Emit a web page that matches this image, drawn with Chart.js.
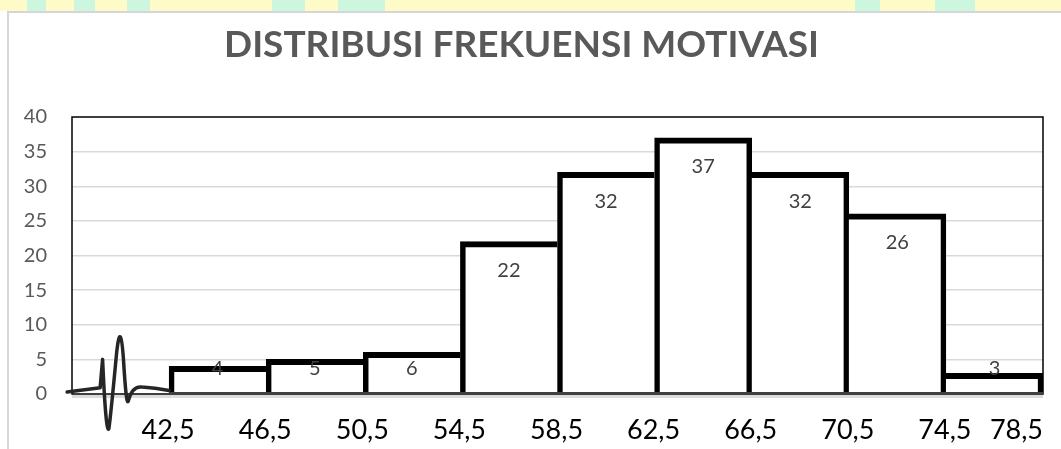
<!DOCTYPE html>
<html>
<head>
<meta charset="utf-8">
<script src="https://cdn.jsdelivr.net/npm/chart.js@4"></script>
<style>
  body { margin: 0; background: #fff; overflow: hidden; }
  #strip {
    position: absolute; left: 0; top: 0; width: 1061px; height: 11px;
    background: linear-gradient(90deg,
      #fffbc9 27px, #cdf6df 27px, #cdf6df 46px, #fffbc9 46px,
      #fffbc9 74px, #cdf6df 74px, #cdf6df 95px, #fffbc9 95px,
      #fffbc9 127px, #cdf6df 127px, #cdf6df 150px, #fffbc9 150px,
      #fffbc9 272px, #cdf6df 272px, #cdf6df 305px, #fffbc9 305px,
      #fffbc9 338px, #cdf6df 338px, #cdf6df 385px, #fffbc9 385px,
      #fffbc9 855px, #cdf6df 855px, #cdf6df 880px, #fffbc9 880px,
      #fffbc9 935px, #cdf6df 935px, #cdf6df 975px, #fffbc9 975px);
  }
  #box {
    position: absolute; left: 7px; top: 11px; width: 1100px; height: 500px;
    border-left: 2px solid #d6d6d6; border-top: 2px solid #d6d6d6; background: #fff;
  }
  #wrap { position: absolute; left: 0; top: 0; width: 1061px; height: 449px; }
</style>
</head>
<body>
<div id="strip"></div>
<div id="box"></div>
<div id="wrap"><canvas id="chart"></canvas></div>
<script>
// class boundaries shown under the bars
const classBounds = ["42,5", "46,5", "50,5", "54,5", "58,5", "62,5", "66,5", "70,5", "74,5", "78,5"];
// class intervals (first slot left empty for the axis break)
const categories = ["", "42,5-46,5", "46,5-50,5", "50,5-54,5", "54,5-58,5", "58,5-62,5",
  "62,5-66,5", "66,5-70,5", "70,5-74,5", "74,5-78,5"];
const frekuensi = [4, 5, 6, 22, 32, 37, 32, 26, 3];
const yTicks = [0, 5, 10, 15, 20, 25, 30, 35, 40];

const values = [null].concat(frekuensi);
const FONT = "Lato";

// side borders: the taller neighbour draws the shared edge
function barBorder(ctx) {
  const i = ctx.dataIndex;
  const v = values[i] || 0;
  const prev = values[i - 1] || 0;
  const next = values[i + 1] || 0;
  return {
    top: 6,
    bottom: 0,
    left: v >= prev ? 5.5 : 0,
    right: (i === values.length - 1 || v > next) ? 5.5 : 0,
  };
}

const extras = {
  id: "extras",
  beforeDatasetsDraw(chart) {
    const { ctx, chartArea: a } = chart;
    ctx.save();
    // plot area frame
    ctx.strokeStyle = "#000";
    ctx.lineWidth = 1.5;
    ctx.strokeRect(a.left, a.top, a.right - a.left, a.bottom - a.top);
    // soft shadow under the axis
    ctx.strokeStyle = "#dcdcdc";
    ctx.lineWidth = 3;
    ctx.beginPath();
    ctx.moveTo(a.left, a.bottom + 2.5);
    ctx.lineTo(a.right, a.bottom + 2.5);
    ctx.stroke();
    ctx.restore();
  },
  afterDatasetsDraw(chart) {
    const { ctx, chartArea: a } = chart;
    const x = chart.scales.x, y = chart.scales.y;
    const w = x.getPixelForValue(1) - x.getPixelForValue(0);
    const base = y.getPixelForValue(0);
    ctx.save();

    // axis line under the bars
    ctx.strokeStyle = "#404040";
    ctx.lineWidth = 2;
    ctx.beginPath();
    ctx.moveTo(x.getPixelForValue(1) - w / 2, base - 1);
    ctx.lineTo(a.right, base - 1);
    ctx.stroke();

    // axis break squiggle in the empty first slot
    const left = x.getPixelForValue(0) - w / 2;
    const pt = (fx, v) => [left + fx * w, y.getPixelForValue(v)];
    ctx.strokeStyle = "#262626";
    ctx.lineWidth = 3.5;
    ctx.lineJoin = "round";
    ctx.lineCap = "round";
    ctx.beginPath();
    ctx.moveTo(...pt(-0.05, 0.3));
    ctx.lineTo(...pt(0.29, 0.9));
    ctx.lineTo(...pt(0.315, 5));
    ctx.quadraticCurveTo(...pt(0.35, -6), ...pt(0.38, -5));
    ctx.quadraticCurveTo(...pt(0.40, -3), ...pt(0.46, 6));
    ctx.quadraticCurveTo(...pt(0.50, 11), ...pt(0.53, 5));
    ctx.quadraticCurveTo(...pt(0.56, -2), ...pt(0.58, -1));
    ctx.quadraticCurveTo(...pt(0.62, 1.2), ...pt(0.72, 1));
    ctx.quadraticCurveTo(...pt(0.85, 0.9), ...pt(1.0, 0.5));
    ctx.stroke();

    // value labels
    ctx.fillStyle = "#404040";
    ctx.font = "20px " + FONT;
    ctx.textAlign = "center";
    ctx.textBaseline = "middle";
    values.forEach((v, i) => {
      if (v == null) return;
      const top = y.getPixelForValue(v);
      ctx.fillText(String(v), x.getPixelForValue(i), Math.min(top + 29, base - 25));
    });

    // class boundary labels
    ctx.fillStyle = "#000";
    ctx.font = "27px " + FONT;
    classBounds.forEach((t, k) => {
      const edge = x.getPixelForValue(k + 1) - w / 2;
      if (k === classBounds.length - 1) {
        ctx.textAlign = "right";
        ctx.fillText(t, a.right, a.bottom + 36);
      } else {
        ctx.textAlign = "center";
        ctx.fillText(t, edge - 1, a.bottom + 36);
      }
    });
    ctx.restore();
  },
};

new Chart(document.getElementById("chart"), {
  type: "bar",
  data: {
    labels: categories,
    datasets: [{
      label: "Frekuensi",
      data: values,
      backgroundColor: "#fff",
      borderColor: "#000",
      borderWidth: barBorder,
      borderSkipped: false,
      barPercentage: 1,
      categoryPercentage: 1,
    }],
  },
  options: {
    responsive: true,
    maintainAspectRatio: false,
    animation: false,
    layout: { padding: { left: 0, right: 18, top: 0, bottom: 0 } },
    plugins: {
      legend: { display: false },
      tooltip: { enabled: false },
      title: {
        display: true,
        text: "DISTRIBUSI FREKUENSI MOTIVASI",
        color: "#595959",
        font: { family: FONT, size: 37, weight: "bold", lineHeight: 1.2 },
        padding: { top: 23, bottom: 49.6 },
      },
    },
    scales: {
      x: {
        grid: { display: false },
        border: { display: false },
        ticks: { display: false },
        afterFit(scale) { scale.height = 55; },
      },
      y: {
        min: 0,
        max: 40,
        afterBuildTicks(scale) { scale.ticks = yTicks.map(v => ({ value: v })); },
        afterFit(scale) { scale.width = 72; },
        border: { display: false },
        grid: {
          drawTicks: false,
          lineWidth: 1.5,
          color: c => (c.tick && (c.tick.value === 0 || c.tick.value === 40)) ? "rgba(0,0,0,0)" : "#d9d9d9",
        },
        ticks: {
          padding: 25,
          color: "#595959",
          font: { family: FONT, size: 20 },
        },
      },
    },
  },
  plugins: [extras],
});
</script>
</body>
</html>
